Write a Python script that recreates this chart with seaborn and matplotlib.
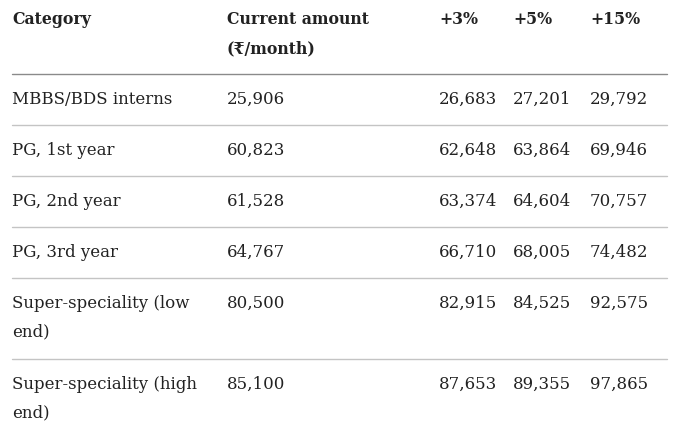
import matplotlib
matplotlib.use("Agg")
import matplotlib.pyplot as plt
import seaborn as sns

# table content
headers = ["Category", "Current amount\n(₹/month)", "+3%", "+5%", "+15%"]
categories = ["MBBS/BDS interns", "PG, 1st year", "PG, 2nd year", "PG, 3rd year",
              "Super-speciality (low\nend)", "Super-speciality (high\nend)"]
current = [25906, 60823, 61528, 64767, 80500, 85100]
plus3 = [26683, 62648, 63374, 66710, 82915, 87653]
plus5 = [27201, 63864, 64604, 68005, 84525, 89355]
plus15 = [29792, 69946, 70757, 74482, 92575, 97865]

sns.set_theme(style="white")
plt.rcParams["font.family"] = ["DejaVu Serif", "DejaVu Sans"]

fig = plt.figure(figsize=(6.79, 4.26), dpi=100)
ax = fig.add_axes([0, 0, 1, 1])
ax.set_xlim(0, 679)
ax.set_ylim(426, 0)
ax.axis("off")

col_x = [12, 227, 439, 513, 590]
txt = "#222222"
fs = 12

# header
for x, h in zip(col_x, headers):
    ax.text(x, 11, h, fontsize=11.3, fontweight="bold", color=txt, va="top",
            linespacing=1.95)
ax.axhline(74, xmin=12 / 679, xmax=667 / 679, color="#8a8a8a", lw=1)

y = 74
for i, cat in enumerate(categories):
    n_lines = cat.count("\n") + 1
    top = y + 17
    vals = [cat, f"{current[i]:,}", f"{plus3[i]:,}", f"{plus5[i]:,}", f"{plus15[i]:,}"]
    for x, v in zip(col_x, vals):
        ax.text(x, top, v, fontsize=fs, color=txt, va="top", linespacing=1.85)
    y = y + 51 + (n_lines - 1) * 30
    if i < len(categories) - 1:
        ax.axhline(y, xmin=12 / 679, xmax=667 / 679, color="#c4c4c4", lw=1)

fig.savefig("out.png", dpi=100, facecolor="white")
